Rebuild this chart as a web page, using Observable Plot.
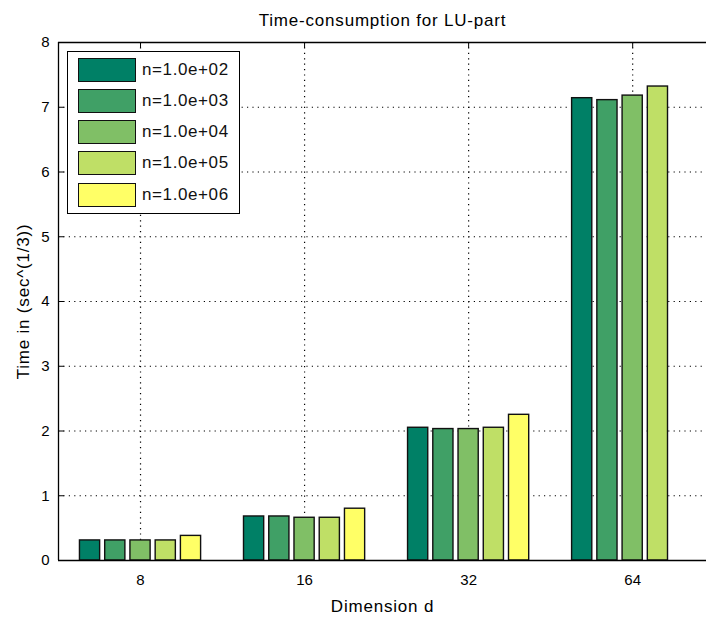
<!DOCTYPE html>
<html>
<head>
<meta charset="utf-8">
<script src="https://cdn.jsdelivr.net/npm/d3@7"></script>
<script src="https://cdn.jsdelivr.net/npm/@observablehq/plot@0.6"></script>
<style>
  html, body { margin: 0; padding: 0; background: #fff; }
  #wrap { position: relative; width: 706px; height: 619px; font-family: "Liberation Sans", Arial, sans-serif; }
  #legend { position: absolute; left: 67px; top: 51px; width: 173px; height: 163px; border: 1px solid #000; background: #fff; box-sizing: border-box; }
  .item { position: absolute; left: 10px; height: 25px; display: flex; align-items: center; }
  .sw { width: 58px; height: 24px; border: 1.3px solid #111; box-sizing: border-box; }
  .lab { margin-left: 6px; font-size: 17px; letter-spacing: 0.6px; color: #111; }
</style>
</head>
<body>
<div id="wrap"></div>
<script>
const dims = ["8", "16", "32", "64"];
const series = ["n=1.0e+02", "n=1.0e+03", "n=1.0e+04", "n=1.0e+05", "n=1.0e+06"];
const colors = ["#008066", "#40a066", "#80bf66", "#bfdf66", "#ffff66"];
const v100 = [0.31, 0.68, 2.05, 7.14];
const v1000 = [0.31, 0.68, 2.03, 7.11];
const v10000 = [0.31, 0.66, 2.03, 7.18];
const v100000 = [0.31, 0.66, 2.05, 7.32];
const v1000000 = [0.38, 0.80, 2.25, null];
const yTicks = [0, 1, 2, 3, 4, 5, 6, 7, 8];

const seriesValues = [v100, v1000, v10000, v100000, v1000000];
const groupWidth = 5 / 6.5;
const pitch = groupWidth / 5;
const barW = pitch * 0.8;
const data = [];
seriesValues.forEach((vals, s) => {
  vals.forEach((v, g) => {
    if (v == null) return;
    const c = g + 1 + (s - 2) * pitch;
    data.push({series: series[s], x1: c - barW / 2, x2: c + barW / 2, value: v});
  });
});

const W = 706, H = 619, mL = 58, mR = 0, mT = 42, mB = 59;
const plotW = W - mL - mR, plotH = H - mT - mB;

const chart = Plot.plot({
  width: W, height: H,
  marginLeft: mL, marginRight: mR, marginTop: mT, marginBottom: mB,
  style: {fontFamily: "Liberation Sans, Arial, sans-serif", fontSize: "15px", color: "#000", background: "#fff"},
  x: {type: "linear", domain: [0.5, 4.45]},
  y: {domain: [0, 8]},
  color: {domain: series, range: colors},
  marks: [
    Plot.gridX([1, 2, 3, 4], {stroke: "#000", strokeOpacity: 1, strokeDasharray: "1.2,4.2", strokeWidth: 1.2}),
    Plot.gridY([1, 2, 3, 4, 5, 6, 7], {stroke: "#000", strokeOpacity: 1, strokeDasharray: "1.2,4.2", strokeWidth: 1.2}),
    Plot.tickY(yTicks, {y: d => d, stroke: "#000", insetRight: plotW - 6}),
    Plot.tickX([1, 2, 3, 4], {x: d => d, stroke: "#000", insetBottom: plotH - 6}),
    Plot.tickX([1, 2, 3, 4], {x: d => d, stroke: "#000", insetTop: plotH - 6}),
    Plot.rect(data, {x1: "x1", x2: "x2", y1: 0, y2: "value", fill: "series", stroke: "#111", strokeWidth: 1.4}),
    Plot.ruleY([0], {stroke: "#000", strokeWidth: 1.3}),
    Plot.ruleY([8], {stroke: "#000", strokeWidth: 1.3}),
    Plot.ruleX([0.5], {stroke: "#000", strokeWidth: 1.3}),
    Plot.axisY(yTicks, {tickSize: 0, tickPadding: 9, label: null, fontSize: 15, tickFormat: d => String(d)}),
    Plot.axisY([], {label: "Time in (sec^(1/3))", labelAnchor: "center", labelArrow: "none", labelOffset: 42, fontSize: 17, tickSize: 0}),
    Plot.axisX([1, 2, 3, 4], {tickFormat: d => dims[d - 1], tickSize: 0, tickPadding: 14, label: null, fontSize: 15}),
    Plot.axisX([], {label: "Dimension d", labelAnchor: "center", labelArrow: "none", labelOffset: 51, fontSize: 17, tickSize: 0}),
    Plot.text(["Time-consumption for LU-part"], {frameAnchor: "top", dy: -29, fontSize: 17, fill: "#000"})
  ]
});

const wrap = document.getElementById("wrap");
wrap.appendChild(chart);
chart.querySelectorAll("text").forEach(t => {
  const s = t.textContent;
  if (s === "Time-consumption for LU-part" || s === "Dimension d" || s === "Time in (sec^(1/3))") {
    t.setAttribute("letter-spacing", "0.8");
  }
});

const legend = document.createElement("div");
legend.id = "legend";
series.forEach((s, i) => {
  const item = document.createElement("div");
  item.className = "item";
  item.style.top = (5 + i * 31.3) + "px";
  const sw = document.createElement("div");
  sw.className = "sw";
  sw.style.background = colors[i];
  const lab = document.createElement("span");
  lab.className = "lab";
  lab.textContent = s;
  item.appendChild(sw);
  item.appendChild(lab);
  legend.appendChild(item);
});
wrap.appendChild(legend);
</script>
</body>
</html>
